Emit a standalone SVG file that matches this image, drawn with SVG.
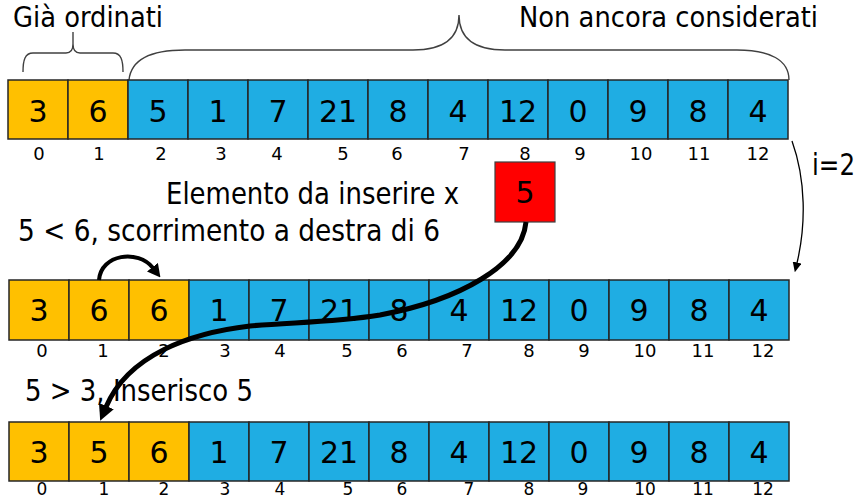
<svg xmlns="http://www.w3.org/2000/svg" width="864" height="499" viewBox="0 0 864 499">
<defs>
<style>
.o{fill:#FFC000;stroke:#262626;stroke-width:1.5}
.b{fill:#1FADE3;stroke:#262626;stroke-width:1.5}
.r{fill:#FF0000;stroke:#404040;stroke-width:1.2}
.v{font-family:"DejaVu Sans","Liberation Sans",sans-serif;font-size:30px;fill:#000;text-anchor:middle}
.i{font-family:"DejaVu Sans","Liberation Sans",sans-serif;font-size:18px;fill:#000;text-anchor:middle}
.i3{font-family:"DejaVu Sans","Liberation Sans",sans-serif;font-size:17px;fill:#000;text-anchor:middle}
.t{font-family:"DejaVu Sans","Liberation Sans",sans-serif;font-size:30px;fill:#000}
.tt{font-family:"DejaVu Sans","Liberation Sans",sans-serif;font-size:28px;fill:#000}
.br{fill:none;stroke:#404040;stroke-width:1.4}
.thick{fill:none;stroke:#000;stroke-width:5}
.mid{fill:none;stroke:#000;stroke-width:4}
.thin{fill:none;stroke:#000;stroke-width:1.3}
</style>
<marker id="hBig" markerUnits="userSpaceOnUse" markerWidth="16" markerHeight="16" refX="1" refY="8" orient="auto"><path d="M0,0 L16,8 L0,16 z" fill="#000"/></marker>
<marker id="hMid" markerUnits="userSpaceOnUse" markerWidth="13" markerHeight="14" refX="1" refY="7" orient="auto"><path d="M0,0 L13,7 L0,14 z" fill="#000"/></marker>
<marker id="hThin" markerUnits="userSpaceOnUse" markerWidth="10" markerHeight="9" refX="0.5" refY="4.5" orient="auto"><path d="M0,0 L10,4.5 L0,9 z" fill="#000"/></marker>
</defs>
<rect width="864" height="499" fill="#fff"/>

<g id="labels">
<text class="tt" x="13" y="27" textLength="150" lengthAdjust="spacingAndGlyphs">Già ordinati</text>
<text class="tt" x="519" y="27" textLength="299" lengthAdjust="spacingAndGlyphs">Non ancora considerati</text>
<text class="t" x="812" y="175" textLength="43" lengthAdjust="spacingAndGlyphs">i=2</text>
<text class="t" x="166" y="204" textLength="293" lengthAdjust="spacingAndGlyphs">Elemento da inserire x</text>
<text class="t" x="18" y="241" textLength="422" lengthAdjust="spacingAndGlyphs">5 &lt; 6, scorrimento a destra di 6</text>
<text class="t" x="25" y="401" textLength="228" lengthAdjust="spacingAndGlyphs">5 &gt; 3, Inserisco 5</text>
</g>

<g id="braces">
<path class="br" d="M23 72 C23 60 25 53 33 53 L66 53 C71 53 73 50 73 44 L73 32 M73 44 C73 50 75 53 80 53 L113 53 C121 53 123 60 123 72"/>
<path class="br" d="M129 80 C131 60 150 50 185 50 L413 50 C442 50 459 40 459 15 C459 40 476 50 505 50 L737 50 C770 50 789 60 789 80"/>
</g>

<g id="row1">
<g id="r1c0"><rect class="o" x="8" y="80" width="60" height="59"/><text class="v" x="38" y="122">3</text><text class="i" x="39" y="160">0</text></g>
<g id="r1c1"><rect class="o" x="68" y="80" width="60" height="59"/><text class="v" x="98" y="122">6</text><text class="i" x="99" y="160">1</text></g>
<g id="r1c2"><rect class="b" x="128" y="80" width="60" height="59"/><text class="v" x="158" y="122">5</text><text class="i" x="161" y="160">2</text></g>
<g id="r1c3"><rect class="b" x="188" y="80" width="60" height="59"/><text class="v" x="218" y="122">1</text><text class="i" x="221" y="160">3</text></g>
<g id="r1c4"><rect class="b" x="248" y="80" width="60" height="59"/><text class="v" x="278" y="122">7</text><text class="i" x="277" y="160">4</text></g>
<g id="r1c5"><rect class="b" x="308" y="80" width="60" height="59"/><text class="v" x="338" y="122">21</text><text class="i" x="343" y="160">5</text></g>
<g id="r1c6"><rect class="b" x="368" y="80" width="60" height="59"/><text class="v" x="398" y="122">8</text><text class="i" x="397" y="160">6</text></g>
<g id="r1c7"><rect class="b" x="428" y="80" width="60" height="59"/><text class="v" x="458" y="122">4</text><text class="i" x="464" y="160">7</text></g>
<g id="r1c8"><rect class="b" x="488" y="80" width="60" height="59"/><text class="v" x="518" y="122">12</text><text class="i" x="525" y="160">8</text></g>
<g id="r1c9"><rect class="b" x="548" y="80" width="60" height="59"/><text class="v" x="578" y="122">0</text><text class="i" x="580" y="160">9</text></g>
<g id="r1c10"><rect class="b" x="608" y="80" width="60" height="59"/><text class="v" x="638" y="122">9</text><text class="i" x="641" y="160">10</text></g>
<g id="r1c11"><rect class="b" x="668" y="80" width="60" height="59"/><text class="v" x="698" y="122">8</text><text class="i" x="699" y="160">11</text></g>
<g id="r1c12"><rect class="b" x="728" y="80" width="60" height="59"/><text class="v" x="758" y="122">4</text><text class="i" x="758" y="160">12</text></g>
</g>

<g id="x-element"><rect class="r" x="495" y="162" width="60" height="60"/><text class="v" x="525" y="203">5</text></g>

<g id="row2">
<g id="r2c0"><rect class="o" x="9" y="280" width="60" height="60"/><text class="v" x="39" y="321">3</text><text class="i" x="42" y="357">0</text></g>
<g id="r2c1"><rect class="o" x="69" y="280" width="60" height="60"/><text class="v" x="99" y="321">6</text><text class="i" x="103" y="357">1</text></g>
<g id="r2c2"><rect class="o" x="129" y="280" width="60" height="60"/><text class="v" x="159" y="321">6</text><text class="i" x="164" y="357">2</text></g>
<g id="r2c3"><rect class="b" x="189" y="280" width="60" height="60"/><text class="v" x="219" y="321">1</text><text class="i" x="225" y="357">3</text></g>
<g id="r2c4"><rect class="b" x="249" y="280" width="60" height="60"/><text class="v" x="279" y="321">7</text><text class="i" x="280" y="357">4</text></g>
<g id="r2c5"><rect class="b" x="309" y="280" width="60" height="60"/><text class="v" x="339" y="321">21</text><text class="i" x="347" y="357">5</text></g>
<g id="r2c6"><rect class="b" x="369" y="280" width="60" height="60"/><text class="v" x="399" y="321">8</text><text class="i" x="402" y="357">6</text></g>
<g id="r2c7"><rect class="b" x="429" y="280" width="60" height="60"/><text class="v" x="459" y="321">4</text><text class="i" x="467" y="357">7</text></g>
<g id="r2c8"><rect class="b" x="489" y="280" width="60" height="60"/><text class="v" x="519" y="321">12</text><text class="i" x="529" y="357">8</text></g>
<g id="r2c9"><rect class="b" x="549" y="280" width="60" height="60"/><text class="v" x="579" y="321">0</text><text class="i" x="584" y="357">9</text></g>
<g id="r2c10"><rect class="b" x="609" y="280" width="60" height="60"/><text class="v" x="639" y="321">9</text><text class="i" x="645" y="357">10</text></g>
<g id="r2c11"><rect class="b" x="669" y="280" width="60" height="60"/><text class="v" x="699" y="321">8</text><text class="i" x="703" y="357">11</text></g>
<g id="r2c12"><rect class="b" x="729" y="280" width="60" height="60"/><text class="v" x="759" y="321">4</text><text class="i" x="763" y="357">12</text></g>
</g>

<g id="row3">
<g id="r3c0"><rect class="o" x="9" y="422" width="60" height="59"/><text class="v" x="39" y="463">3</text><text class="i3" x="42" y="494.5">0</text></g>
<g id="r3c1"><rect class="o" x="69" y="422" width="60" height="59"/><text class="v" x="99" y="463">5</text><text class="i3" x="104" y="494.5">1</text></g>
<g id="r3c2"><rect class="o" x="129" y="422" width="60" height="59"/><text class="v" x="159" y="463">6</text><text class="i3" x="164" y="494.5">2</text></g>
<g id="r3c3"><rect class="b" x="189" y="422" width="60" height="59"/><text class="v" x="219" y="463">1</text><text class="i3" x="225" y="494.5">3</text></g>
<g id="r3c4"><rect class="b" x="249" y="422" width="60" height="59"/><text class="v" x="279" y="463">7</text><text class="i3" x="280" y="494.5">4</text></g>
<g id="r3c5"><rect class="b" x="309" y="422" width="60" height="59"/><text class="v" x="339" y="463">21</text><text class="i3" x="348" y="494.5">5</text></g>
<g id="r3c6"><rect class="b" x="369" y="422" width="60" height="59"/><text class="v" x="399" y="463">8</text><text class="i3" x="402" y="494.5">6</text></g>
<g id="r3c7"><rect class="b" x="429" y="422" width="60" height="59"/><text class="v" x="459" y="463">4</text><text class="i3" x="469" y="494.5">7</text></g>
<g id="r3c8"><rect class="b" x="489" y="422" width="60" height="59"/><text class="v" x="519" y="463">12</text><text class="i3" x="529" y="494.5">8</text></g>
<g id="r3c9"><rect class="b" x="549" y="422" width="60" height="59"/><text class="v" x="579" y="463">0</text><text class="i3" x="583" y="494.5">9</text></g>
<g id="r3c10"><rect class="b" x="609" y="422" width="60" height="59"/><text class="v" x="639" y="463">9</text><text class="i3" x="645" y="494.5">10</text></g>
<g id="r3c11"><rect class="b" x="669" y="422" width="60" height="59"/><text class="v" x="699" y="463">8</text><text class="i3" x="703" y="494.5">11</text></g>
<g id="r3c12"><rect class="b" x="729" y="422" width="60" height="59"/><text class="v" x="759" y="463">4</text><text class="i3" x="763" y="494.5">12</text></g>
</g>

<g id="connectors">
<path class="thin" d="M792 141 C806 180 806 225 797 263" marker-end="url(#hThin)"/>
<path class="mid" d="M99 280 C101 254 138 249 153 268" marker-end="url(#hMid)"/>
<path class="thick" d="M526 222 C522 265 460 300 380 315 C330 323 290 322 250 326 C190 333 128 355 106 407" marker-end="url(#hBig)"/>
</g>
</svg>
